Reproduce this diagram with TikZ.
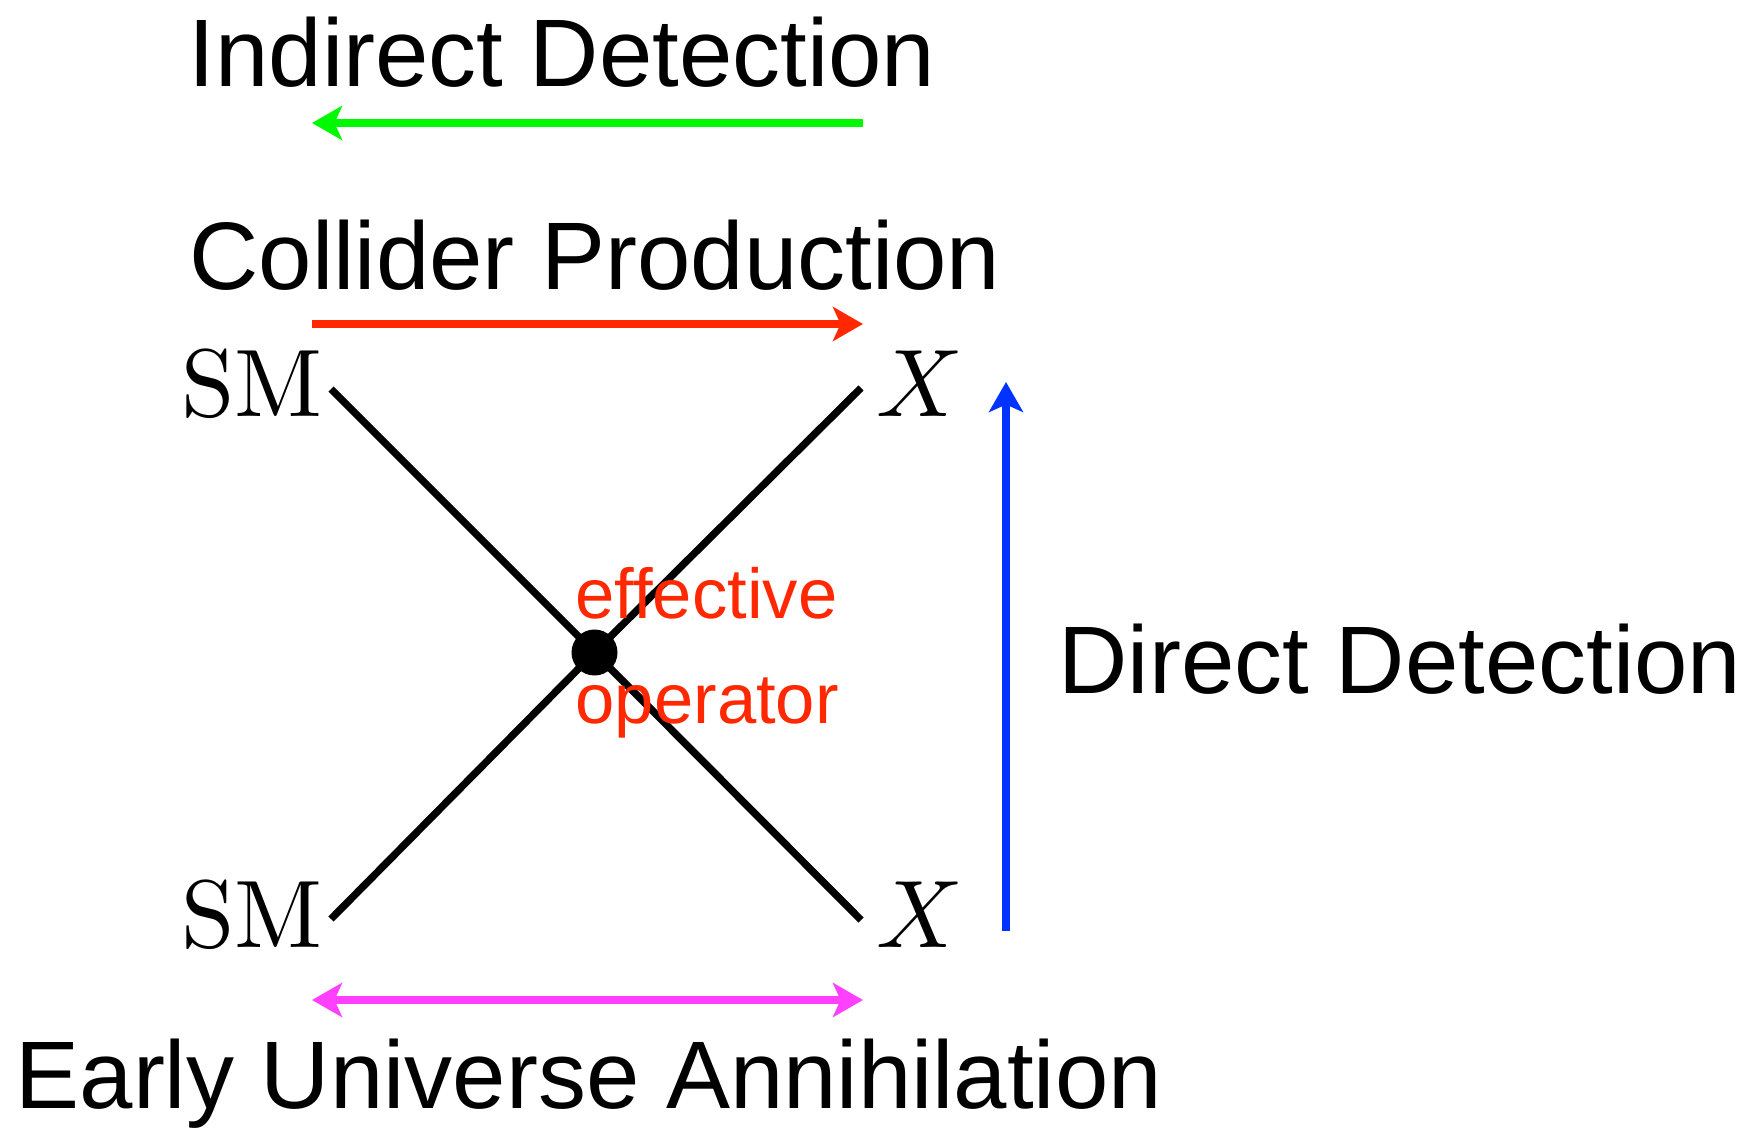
\documentclass[tikz,border=0pt]{standalone}
\usepackage{amsmath}
\usepackage{fontspec}
\usepackage{tikz}
\usetikzlibrary{arrows.meta}
\newfontfamily\labelfont{Liberation Sans}
\font\smrm=cmr10 at 27.3pt
\font\fieldit=cmmi10 at 27.3pt
\definecolor{indirect}{RGB}{0,248,0}
\definecolor{collider}{RGB}{255,40,0}
\definecolor{direct}{RGB}{0,51,255}
\definecolor{early}{RGB}{255,64,255}
\tikzstyle{eft}=[line width=2.1pt, >={Stealth[length=3mm, width=3.4mm, inset=0.75mm]}]
\tikzstyle{proc}=[inner sep=0pt, anchor=base west, font=\labelfont\fontsize{27.3}{32}\selectfont]
\tikzstyle{field}=[inner sep=0pt, anchor=base west]
\tikzstyle{op}=[inner sep=0pt, anchor=base west, text=collider, font=\labelfont\fontsize{20.1}{24}\selectfont]
\tikzstyle{leg}=[-, black]
\tikzstyle{vtx}=[circle, fill=black, inner sep=0pt, minimum size=0.46cm]
\tikzstyle{flow}=[->]
\newcommand{\legL}{3.31}
\newcommand{\legR}{8.61}
\newcommand{\arrL}{3.12}
\newcommand{\arrR}{8.63}
\begin{document}
\begin{tikzpicture}[eft]
		\useasboundingbox (0,0) rectangle (17.47,11.28);
		%The vertex and the four legs
		\coordinate (smtop) at (\legL,7.39);
		\coordinate (smbot) at (\legL,2.09);
		\coordinate (xtop) at (\legR,7.40);
		\coordinate (xbot) at (\legR,2.08);
		\node[vtx] (v) at (5.945,4.755) {};
		\draw[leg] (smtop) -- (v.center) -- (xbot);
		\draw[leg] (smbot) -- (v.center) -- (xtop);
		\node[op] (eff) at (5.72,5.10) {effective};
		\node[op] (oper) at (5.72,4.05) {operator};

		%The external fields
		\draw (1.78,7.11) node[field] (sm1) {\smrm SM};
		\draw (1.78,1.81) node[field] (sm2) {\smrm SM};
		\draw (8.73,7.11) node[field] (x1) {\fieldit X};
		\draw (8.73,1.81) node[field] (x2) {\fieldit X};

		%The process arrows
		\coordinate (gL) at (\arrL,10.05);
		\coordinate (gR) at (\arrR,10.05);
		\coordinate (rL) at (\arrL,8.04);
		\coordinate (rR) at (\arrR,8.04);
		\coordinate (mL) at (\arrL,1.28);
		\coordinate (mR) at (\arrR,1.28);
		\coordinate (bB) at (10.06,1.97);
		\coordinate (bT) at (10.06,7.46);
		\draw[flow, indirect] (gR) -- (gL);
		\draw[flow, collider] (rL) -- (rR);
		\draw[flow, early, <->] (mL) -- (mR);
		\draw[flow, direct] (bB) -- (bT);

		%The labels
		\draw (1.85,10.41) node[proc] (ind) {Indirect Detection};
		\draw (1.86,8.38) node[proc] (col) {Collider Production};
		\draw (10.55,4.35) node[proc] (dir) {Direct Detection};
		\draw (0.12,0.20) node[proc] (ann) {Early Universe Annihilation};
\end{tikzpicture}
\end{document}
